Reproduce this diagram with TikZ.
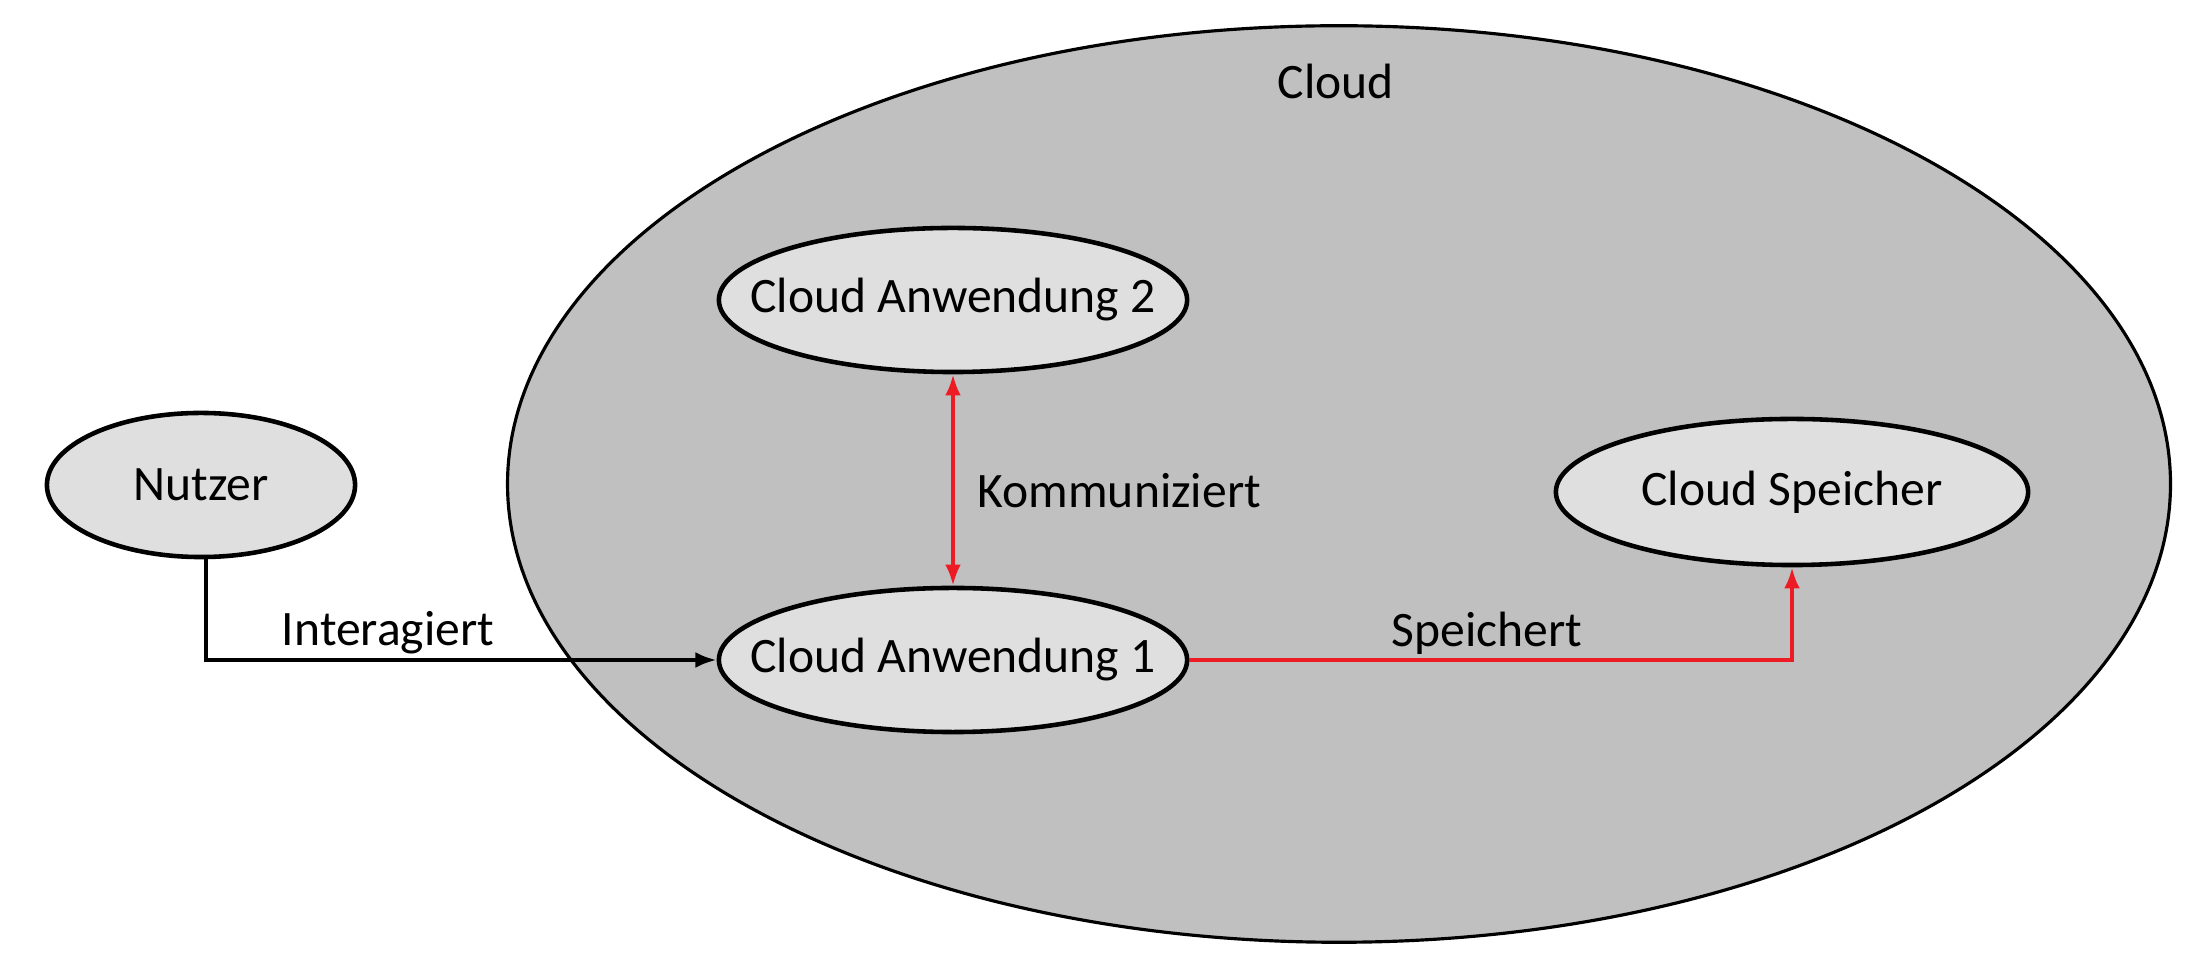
\documentclass[tikz,border=0pt]{standalone}
\usepackage{fontspec}
\setmainfont{Carlito}
\usetikzlibrary{shapes.geometric,arrows.meta}
\definecolor{outerfill}{RGB}{192,192,192}
\definecolor{innerfill}{RGB}{223,223,223}
\definecolor{redline}{RGB}{237,28,36}
\tikzset{
  inner/.style={ellipse,draw=black,line width=1.3pt,fill=innerfill,inner sep=-1cm,font=\fontsize{14.1pt}{17pt}\selectfont},
  lbl/.style={inner sep=0pt,font=\fontsize{14.1pt}{17pt}\selectfont},
  blkarrow/.style={draw=black,line width=1.1pt,-{Latex[length=6pt,width=4.5pt]}},
  redarrow/.style={draw=redline,line width=1.1pt,-{Latex[length=6pt,width=4.5pt]}},
  redboth/.style={draw=redline,line width=1.1pt,{Latex[length=6pt,width=4.5pt]}-{Latex[length=6pt,width=4.5pt]}}
}
\begin{document}
\begin{tikzpicture}[x=0.01cm,y=-0.01cm]
\useasboundingbox (0,0) rectangle (2198,974);
\node[ellipse,draw=black,line width=0.9pt,fill=outerfill,minimum width=16.62cm,minimum height=9.16cm,inner sep=0pt] (cloud) at (1339,484) {};
\node[lbl] (cloudlbl) at (1336,81) {Cloud};
\node[inner,minimum width=4.68cm,minimum height=1.44cm] (ca2) at (953,300) {Cloud Anwendung 2};
\node[inner,minimum width=3.08cm,minimum height=1.44cm] (nutzer) at (201,485) {Nutzer};
\node[inner,minimum width=4.72cm,minimum height=1.46cm] (cs) at (1792,492) {Cloud Speicher};
\node[inner,minimum width=4.68cm,minimum height=1.44cm] (ca1) at (953,660) {Cloud Anwendung 1};
\draw[redboth] (ca2.south) -- (ca1.north);
\node[lbl,anchor=west] (komm) at (977,491) {Kommuniziert};
\draw[blkarrow] ([xshift=0.05cm]nutzer.south) |- (ca1.west);
\node[lbl] (inter) at (388,633) {Interagiert};
\draw[redarrow] (ca1.east) -| (cs.south);
\node[lbl] (speich) at (1487,633) {Speichert};
\end{tikzpicture}
\end{document}
